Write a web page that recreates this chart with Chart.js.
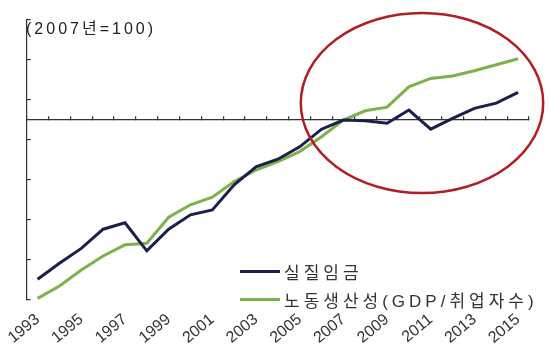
<!DOCTYPE html>
<html>
<head>
<meta charset="utf-8">
<script src="https://cdn.jsdelivr.net/npm/chart.js@4.4.0/dist/chart.umd.min.js"></script>
<style>
  html, body { margin: 0; padding: 0; background: #fff; }
  #wrap { position: relative; width: 550px; height: 350px; }
  #unit {
    position: absolute; left: 26px; top: 19px;
    font: 16px "Liberation Sans", "Noto Sans CJK KR", sans-serif;
    letter-spacing: 3px; color: #222; line-height: 20px;
  }
  #legend {
    position: absolute; left: 240px; top: 257px;
    font: 17px "Liberation Sans", "Noto Sans CJK KR", sans-serif;
    letter-spacing: 4px; color: #333;
  }
  .row { display: flex; align-items: center; height: 28px; white-space: nowrap; }
  .swatch { width: 40px; height: 3px; margin-right: 4px; }
</style>
</head>
<body>
<div id="wrap">
  <canvas id="chart" width="550" height="350"></canvas>
  <div id="unit">(2007년=100)</div>
  <div id="legend"></div>
</div>
<script>
const years = ["1993", "1994", "1995", "1996", "1997", "1998", "1999", "2000",
  "2001", "2002", "2003", "2004", "2005", "2006", "2007", "2008", "2009",
  "2010", "2011", "2012", "2013", "2014", "2015"];

const realWage = [60.2, 64.2, 67.9, 72.7, 74.3, 67.3, 72.7, 76.3, 77.5, 83.8,
  88.3, 90.2, 93.3, 97.7, 100, 99.8, 99.2, 102.5, 97.7, 100.4, 102.9, 104.2, 106.9];

const productivity = [55.4, 58.5, 62.5, 66.0, 68.8, 69.2, 75.7, 78.8, 80.7, 84.6,
  87.5, 89.6, 92.1, 95.8, 100, 102.3, 103.2, 108.3, 110.4, 111.0, 112.3, 113.8, 115.3];

const seriesNames = ["실질임금", "노동생산성(GDP/취업자수)"];

// red ring drawn over the later years (in scale units: year index / index value)
const ring = { x: 17.6, y: 104.25, halfYears: 5.55, halfValue: 22.5 };

const ringPlugin = {
  id: "ring",
  afterDatasetsDraw(chart) {
    const { ctx, scales } = chart;
    const x = scales.x, y = scales.y;
    const cx = x.getPixelForValue(ring.x);
    const cy = y.getPixelForValue(ring.y);
    const rx = x.getPixelForValue(ring.x + ring.halfYears) - cx;
    const ry = cy - y.getPixelForValue(ring.y + ring.halfValue);
    ctx.save();
    ctx.beginPath();
    ctx.ellipse(cx, cy, rx, ry, 0, 0, Math.PI * 2);
    ctx.strokeStyle = "#b01e26";
    ctx.lineWidth = 2.5;
    ctx.stroke();
    ctx.restore();
  }
};

const chart = new Chart(document.getElementById("chart"), {
  type: "line",
  data: {
    labels: years,
    datasets: [
      {
        label: seriesNames[0],
        data: realWage,
        borderColor: "#1b1f4d",
        borderWidth: 3,
        pointRadius: 0,
        tension: 0
      },
      {
        label: seriesNames[1],
        data: productivity,
        borderColor: "#7db24a",
        borderWidth: 3,
        pointRadius: 0,
        tension: 0
      }
    ]
  },
  options: {
    responsive: false,
    animation: false,
    layout: { padding: { left: 16, right: 21, top: 20, bottom: 0 } },
    plugins: { legend: { display: false }, tooltip: { enabled: false } },
    scales: {
      x: {
        type: "category",
        position: { y: 100 },
        offset: true,
        grid: { offset: true, drawOnChartArea: false, tickLength: -4, color: "#333", lineWidth: 1.2 },
        border: { color: "#333", width: 1.2 },
        ticks: { display: false }
      },
      x2: {
        type: "category",
        position: "bottom",
        offset: true,
        grid: { display: false, drawTicks: false },
        border: { display: false },
        ticks: {
          autoSkip: false,
          minRotation: 40,
          maxRotation: 40,
          padding: 10,
          color: "#333",
          font: { family: "'Liberation Sans', sans-serif", size: 16 },
          callback: (v, i) => (i % 2 === 0 ? years[i] : "")
        },
        afterFit: (s) => { s.height = 50; }
      },
      y: {
        position: "left",
        min: 55,
        max: 125,
        ticks: { display: false, stepSize: 10 },
        grid: { drawOnChartArea: false, tickLength: -4, color: "#333", lineWidth: 1.2 },
        border: { color: "#333", width: 1.2 },
        afterFit: (s) => { s.width = 0; }
      }
    }
  },
  plugins: [ringPlugin]
});

// legend rows in the lower right of the plot
const legend = document.getElementById("legend");
chart.data.datasets.forEach((ds) => {
  const row = document.createElement("div");
  row.className = "row";
  const sw = document.createElement("span");
  sw.className = "swatch";
  sw.style.background = ds.borderColor;
  const txt = document.createElement("span");
  txt.textContent = ds.label;
  row.appendChild(sw);
  row.appendChild(txt);
  legend.appendChild(row);
});
</script>
</body>
</html>
